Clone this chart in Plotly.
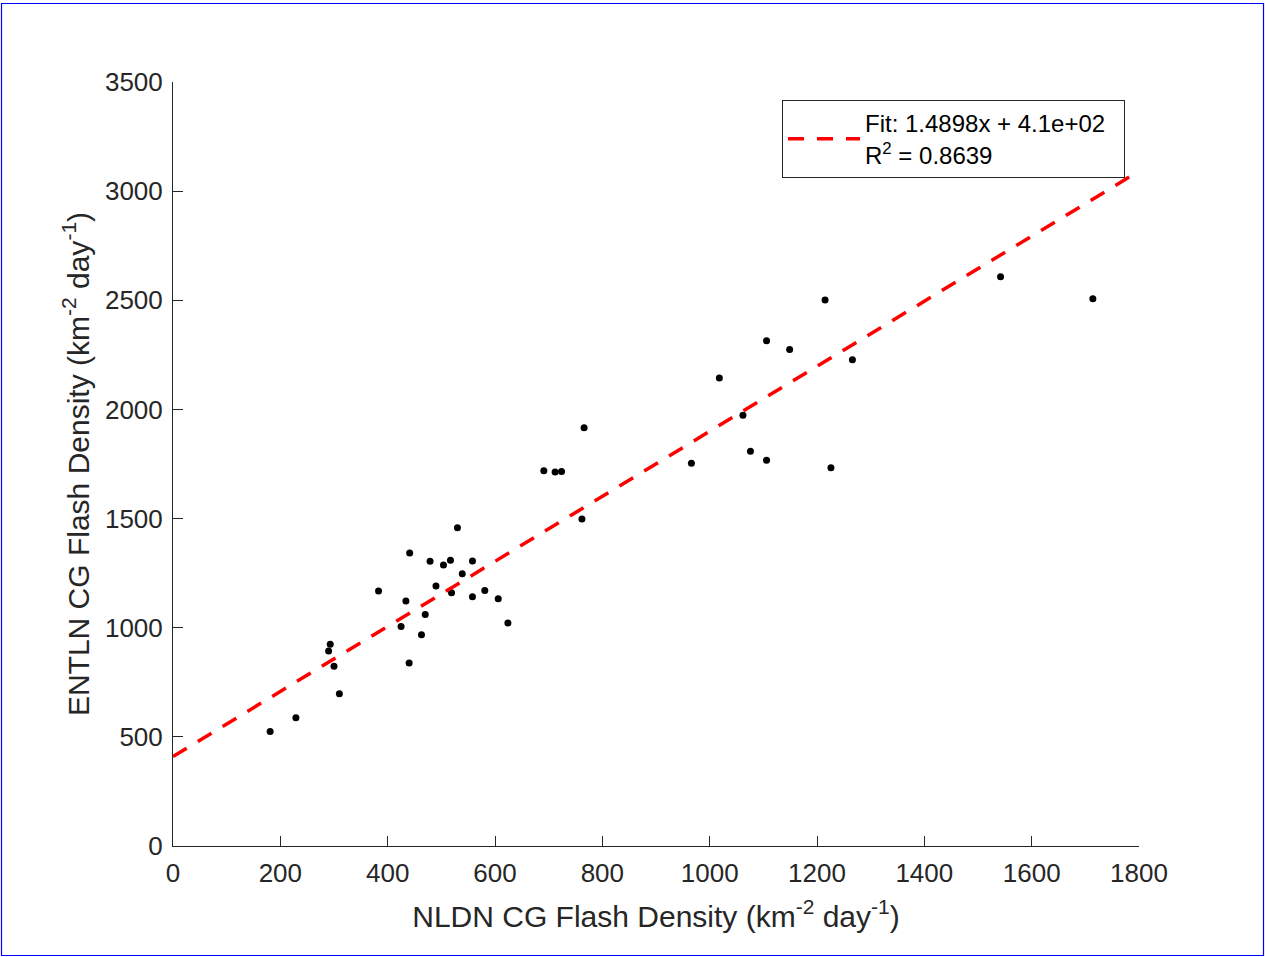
import plotly.graph_objects as go

# NLDN CG flash density (x) vs ENTLN CG flash density (y)
nldn = [181, 229, 310, 300, 290, 293, 383, 434, 425, 440, 463, 470, 441, 479,
        490, 504, 517, 519, 530, 539, 558, 558, 581, 606, 624, 691, 712, 724,
        766, 762, 966, 1018, 1062, 1076, 1106, 1106, 1149, 1215, 1266, 1226,
        1542, 1714]
entln = [525, 588, 698, 823, 893, 924, 1168, 1122, 1006, 838, 968, 1061, 1342, 1304,
         1191, 1287, 1309, 1160, 1458, 1247, 1306, 1142, 1171, 1133, 1022, 1719, 1713, 1716,
         1916, 1498, 1753, 2144, 1973, 1808, 1767, 2315, 2274, 2501, 2228, 1733,
         2608, 2507]

fit_slope = 1.4898
fit_intercept = 410.0
fit_r2 = 0.8639
fit_x = [0, 1800]
fit_y = [fit_slope * v + fit_intercept for v in fit_x]

x_ticks = [0, 200, 400, 600, 800, 1000, 1200, 1400, 1600, 1800]
y_ticks = [0, 500, 1000, 1500, 2000, 2500, 3000, 3500]

FONT = "Liberation Sans, Arial, Helvetica, sans-serif"
INK = "#262626"

fig = go.Figure()
fig.add_trace(go.Scatter(
    x=nldn, y=entln, mode="markers",
    marker=dict(color="black", size=7),
    showlegend=False, hoverinfo="x+y"))
fig.add_trace(go.Scatter(
    x=fit_x, y=fit_y, mode="lines",
    line=dict(color="#ff0000", width=3.5, dash="16px,13px"),
    name=f"Fit: {fit_slope:.4f}x + 4.1e+02\u00a0\u00a0<br>R<sup>2</sup> = {fit_r2:.4f}",
    showlegend=True))

W, H = 1265, 957
L, R, T, B = 173, 1139, 82, 846
pw, ph = R - L, B - T

fig.update_layout(
    width=W, height=H,
    margin=dict(l=L, r=W - R, t=T, b=H - B, autoexpand=False),
    paper_bgcolor="white", plot_bgcolor="white",
    font=dict(family=FONT, color=INK, size=26),
    showlegend=True,
    legend=dict(
        x=(782 - L) / pw, y=(B - 100) / ph, xanchor="left", yanchor="top",
        bordercolor=INK, borderwidth=1, bgcolor="white",
        font=dict(family=FONT, size=24, color="black"),
        valign="middle", itemwidth=72, tracegroupgap=0),
    xaxis=dict(
        range=[0, 1800], tickvals=x_ticks, ticks="inside", ticklen=10,
        tickcolor=INK, showline=True, linecolor=INK, linewidth=1,
        showgrid=False, zeroline=False, mirror=False,
        tickfont=dict(size=26, color=INK), ticklabelstandoff=4,
        title=dict(text="NLDN CG Flash Density (km<sup>-2</sup> day<sup>-1</sup>)",
                   font=dict(size=30, color=INK), standoff=18)),
    yaxis=dict(
        range=[0, 3500], tickvals=y_ticks, ticks="inside", ticklen=10,
        tickcolor=INK, showline=True, linecolor=INK, linewidth=1,
        showgrid=False, zeroline=False, mirror=False,
        tickfont=dict(size=26, color=INK), ticklabelstandoff=4,
        title=dict(text="ENTLN CG Flash Density (km<sup>-2</sup> day<sup>-1</sup>)",
                   font=dict(size=30, color=INK), standoff=6)),
    shapes=[dict(type="rect", xref="paper", yref="paper",
                 x0=(1.5 - L) / pw, x1=(1263.5 - L) / pw,
                 y0=(B - 955.5) / ph, y1=(B - 3.5) / ph,
                 line=dict(color="#0000ff", width=1.2), fillcolor="rgba(0,0,0,0)",
                 layer="below")],
)

fig.write_html("out.html", config={"displayModeBar": False},
               post_script="document.body.style.margin='0px';document.body.style.overflow='hidden';")
